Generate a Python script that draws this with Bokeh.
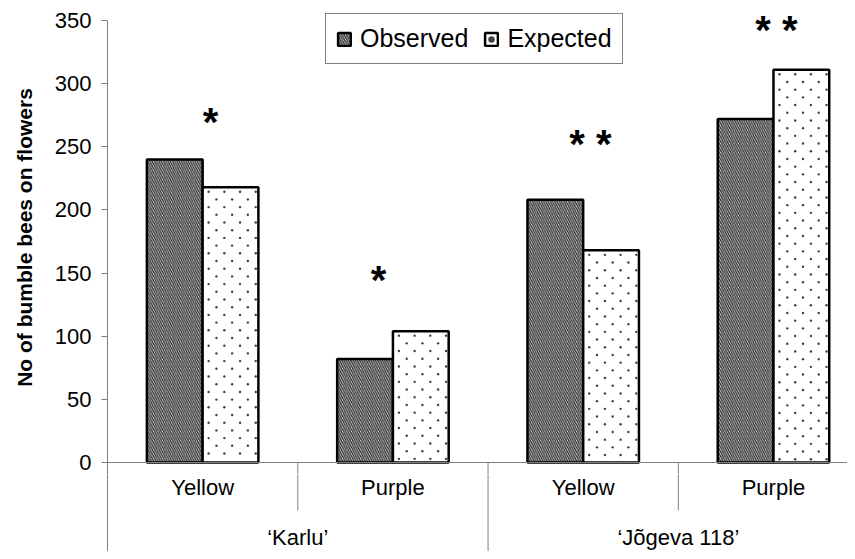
from bokeh.plotting import figure
from bokeh.layouts import column
from bokeh.models import Range1d, FixedTicker, LinearAxis, Legend, LegendItem, ColumnDataSource
from bokeh.core.properties import value
from bokeh.embed import file_html
from bokeh.resources import INLINE

# ---- data ----
cultivars = ["\u2018Karlu\u2019", "\u2018J\u00f5geva 118\u2019"]
colours = ["Yellow", "Purple", "Yellow", "Purple"]
observed = [240, 82, 208, 272]
expected = [218, 104, 168, 311]
significance = ["*", "*", "* *", "* *"]
sig_x = [0.541, 1.424, 2.538, 3.515]
sig_y = [269.5, 144.5, 252.5, 342.5]
y_ticks = [0, 50, 100, 150, 200, 250, 300, 350]

FONT = "Liberation Sans"
GREY = "#808080"
n = len(colours)
centers = [i + 0.5 for i in range(n)]
bw = 0.293

W = 847
LEFT = 107
TOP_PX = 20                       # pixel row of the 350 tick
X_END = 3.889
PPX = (W - LEFT) / X_END          # px per x unit
PPY = 442 / 350                   # px per y unit
SPLIT = -9.5                      # y value where the two panels meet
Y_BOTTOM = -70.47
Y_TOP = y_ticks[-1] + TOP_PX / PPY
H1 = 474

xr = Range1d(0, X_END)

# ---------- upper panel: bars ----------
p = figure(width=W, height=H1, output_backend="svg", toolbar_location=None,
           x_range=xr, y_range=Range1d(SPLIT, Y_TOP),
           min_border_left=LEFT, min_border_right=0, min_border_top=0, min_border_bottom=0,
           x_axis_location=None, y_axis_location=None)
p.outline_line_color = None
p.xgrid.visible = False
p.ygrid.visible = False

yax = LinearAxis(ticker=FixedTicker(ticks=y_ticks), bounds=(SPLIT, y_ticks[-1]))
yax.axis_line_color = GREY
yax.major_tick_line_color = GREY
yax.major_tick_out = 6
yax.major_tick_in = 0
yax.minor_tick_line_color = None
yax.major_label_text_font = FONT
yax.major_label_text_font_size = "22px"
yax.major_label_text_color = "black"
yax.major_label_standoff = 10
yax.axis_label = "No of bumble bees on flowers"
yax.axis_label_text_font = FONT
yax.axis_label_text_font_size = "21px"
yax.axis_label_text_font_style = "bold"
yax.axis_label_text_color = "black"
yax.axis_label_standoff = 16
p.add_layout(yax, "left")

src = ColumnDataSource(dict(
    xo=[c - bw / 2 for c in centers],
    xe=[c + bw / 2 for c in centers],
    obs=observed, exp=expected))

r_obs = p.vbar(x="xo", top="obs", bottom=0, width=bw, source=src,
               fill_color="white", line_color="black", line_width=2.5,
               hatch_pattern="\\", hatch_scale=4.5, hatch_weight=1.5, hatch_color="#383838")
r_exp = p.vbar(x="xe", top="exp", bottom=0, width=bw, source=src,
               fill_color="white", line_color="black", line_width=2.5)

# dotted fill texture of the expected bars (staggered dot lattice inside each bar)
dx, dy = [], []
for c, top in zip(centers, expected):
    k = 0
    while 4.5 + 7.7 * k < top * PPY - 3:
        off = 6.0 if k % 2 == 0 else 13.8
        while off < bw * PPX - 1.5:
            dx.append(c + off / PPX)
            dy.append(top - (4.5 + 7.7 * k) / PPY)
            off += 15.7
        k += 1
r_dots = p.scatter(x=dx, y=dy, size=2.4, marker="circle", fill_color="#404040", line_color=None)

# significance stars
p.text(x=sig_x, y=sig_y, text=significance, text_font=value(FONT),
       text_font_size="40px", text_font_style="bold", text_align="center",
       text_baseline="alphabetic", text_color="black")

edges = list(range(n + 1))
inner = [e for e in edges if e % 2 == 1]
outer = [e for e in edges if e % 2 == 0 and e > 0]

# baseline and start of category separators
p.segment(x0=[0], y0=[0], x1=[X_END], y1=[0], line_color=GREY, line_width=1)
p.segment(x0=inner + outer, y0=[0] * (len(inner) + len(outer)), x1=inner + outer,
          y1=[SPLIT] * (len(inner) + len(outer)), line_color=GREY, line_width=1)

legend = Legend(items=[LegendItem(label="Observed", renderers=[r_obs]),
                       LegendItem(label="Expected", renderers=[r_exp, r_dots])],
                orientation="horizontal", location=(218, H1 - 64))
legend.label_text_font = FONT
legend.label_text_font_size = "25px"
legend.label_text_color = "black"
legend.label_height = 27
legend.glyph_width = 16
legend.glyph_height = 16
legend.label_standoff = 8
legend.spacing = 15
legend.padding = 10
legend.margin = 0
legend.border_line_color = "black"
legend.border_line_width = 1
legend.background_fill_color = "white"
legend.background_fill_alpha = 1
p.add_layout(legend, "center")

# ---------- lower panel: category labels ----------
q = figure(width=W, height=77, output_backend="svg", toolbar_location=None,
           x_range=xr, y_range=Range1d(Y_BOTTOM, SPLIT),
           min_border_left=LEFT, min_border_right=0, min_border_top=0, min_border_bottom=0,
           x_axis_location=None, y_axis_location=None)
q.outline_line_color = None
q.xgrid.visible = False
q.ygrid.visible = False
qax = LinearAxis(ticker=FixedTicker(ticks=[]))
qax.axis_line_color = GREY
qax.major_tick_line_color = None
qax.minor_tick_line_color = None
qax.major_label_text_font_size = "0px"
q.add_layout(qax, "left")

q.segment(x0=inner, y0=[SPLIT] * len(inner), x1=inner, y1=[-38] * len(inner),
          line_color=GREY, line_width=1)
q.segment(x0=outer, y0=[SPLIT] * len(outer), x1=outer, y1=[Y_BOTTOM] * len(outer),
          line_color=GREY, line_width=1)
q.text(x=centers, y=[-20] * n, text=colours, text_font=value(FONT),
       text_font_size="22px", text_align="center", text_baseline="middle", text_color="black")
q.text(x=[1, 3], y=[-59] * 2, text=cultivars, text_font=value(FONT),
       text_font_size="22px", text_align="center", text_baseline="middle", text_color="black")

layout = column(p, q, spacing=0)
open("out.html", "w").write(file_html(layout, INLINE))
